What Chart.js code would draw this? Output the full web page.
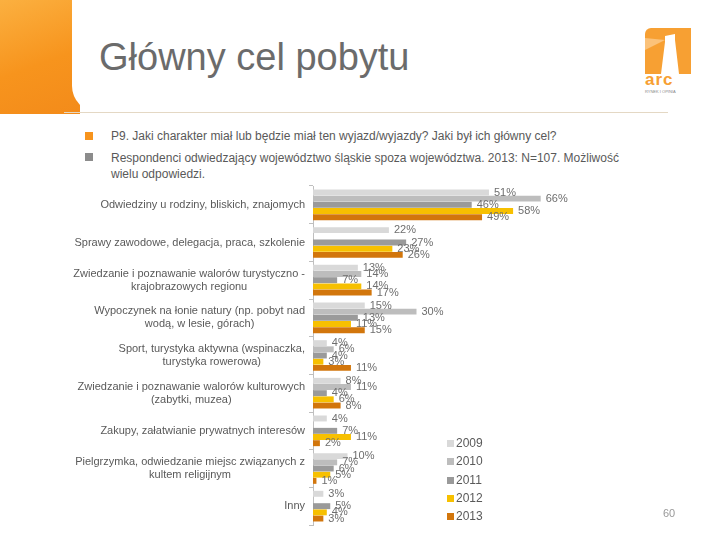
<!DOCTYPE html>
<html>
<head>
<meta charset="utf-8">
<script src="https://cdn.jsdelivr.net/npm/chart.js@4/dist/chart.umd.min.js"></script>
<style>
  body { margin: 0; width: 720px; height: 540px; position: relative; background: #fff; font-family: "Liberation Sans", Arial, sans-serif; overflow: hidden; }
  .corner { position: absolute; left: 0; top: 0; width: 80px; height: 114px; background: linear-gradient(160deg, #fbb040 0%, #f7941d 55%, #f38b1a 100%); }
  .panel { position: absolute; left: 72px; top: 0; width: 648px; height: 112px; background: #fff; border-bottom-left-radius: 26px; }
  .rule { position: absolute; left: 64px; top: 112px; width: 604px; height: 1px; background: #e4d8c4; }
  h1 { position: absolute; left: 99px; top: 36px; margin: 0; font-weight: normal; font-size: 38px; color: #6b6b6b; }
  .q { position: absolute; left: 111px; font-size: 12px; color: #595959; line-height: 16px; width: 520px; }
  .bul { position: absolute; left: 85px; width: 8px; height: 8px; }
  #legend { position: absolute; left: 447px; top: 435px; font-size: 12px; color: #595959; }
  #legend div { height: 18.3px; line-height: 16px; }
  #legend span { display: inline-block; width: 7px; height: 7px; margin-right: 2px; }
  .logo { position: absolute; left: 645px; top: 28px; width: 46px; height: 46px; background: #f7a033; border-top-left-radius: 6px; }
  .arc { position: absolute; left: 645px; top: 70px; font-size: 17px; font-weight: bold; color: #f7a033; letter-spacing: 1px; }
  .arcsub { position: absolute; left: 645px; top: 89px; font-size: 4px; color: #888; }
  .page { position: absolute; left: 663px; top: 507px; font-size: 11px; color: #999; }
</style>
</head>
<body>
<div class="corner"></div>
<div class="panel"></div>
<div class="rule"></div>
<h1>Główny cel pobytu</h1>
<div class="logo">
  <svg width="46" height="46"><path d="M20 8 L30 6 L30 12 L34 46 L16 46 L20 14 Z" fill="#fff"/><path d="M0 10 L20 12 L0 22 Z" fill="#fbc27a"/></svg>
</div>
<div class="arc">arc</div>
<div class="arcsub">RYNEK I OPINIA</div>
<div class="bul" style="top:132px;background:#f7941d"></div>
<div class="q" style="top:128px">P9. Jaki charakter miał lub będzie miał ten wyjazd/wyjazdy? Jaki był ich główny cel?</div>
<div class="bul" style="top:153px;background:#8c8c8c"></div>
<div class="q" style="top:150px">Respondenci odwiedzający województwo śląskie spoza województwa. 2013: N=107. Możliwość wielu odpowiedzi.</div>
<div style="position:absolute;left:0;top:180px;width:720px;height:350px"><canvas id="myChart"></canvas></div>
<div id="legend"></div>
<div class="page">60</div>
<script>
const categories = [
  ['Odwiedziny u rodziny, bliskich, znajomych'],
  ['Sprawy zawodowe, delegacja, praca, szkolenie'],
  ['Zwiedzanie i poznawanie walorów turystyczno -', 'krajobrazowych regionu'],
  ['Wypoczynek na łonie natury (np. pobyt nad', 'wodą, w lesie, górach)'],
  ['Sport, turystyka aktywna (wspinaczka,', 'turystyka rowerowa)'],
  ['Zwiedzanie i poznawanie walorów kulturowych', '(zabytki, muzea)'],
  ['Zakupy, załatwianie prywatnych interesów'],
  ['Pielgrzymka, odwiedzanie miejsc związanych z', 'kultem religijnym'],
  ['Inny']
];
const years = ['2009', '2010', '2011', '2012', '2013'];
const values2009 = [51, 22, 13, 15, 4, 8, 4, 10, 3];
const values2010 = [66, null, 14, 30, 6, 11, null, 7, null];
const values2011 = [46, 27, 7, 13, 4, 4, 7, 6, 5];
const values2012 = [58, 23, 14, 11, 3, 6, 11, 5, 4];
const values2013 = [49, 26, 17, 15, 11, 8, 2, 1, 3];
const colors = ['#d9d9d9', '#bdbdbd', '#9a9a9a', '#f7c000', '#d2760c'];

const series = [values2009, values2010, values2011, values2012, values2013];

// etykiety kategorii: wyśrodkowane w bloku wyrównanym do prawej
const catLabels = {
  id: 'catLabels',
  afterDraw(chart) {
    const ctx = chart.ctx;
    const y = chart.scales.y;
    ctx.save();
    ctx.font = '11px "Liberation Sans", Arial, sans-serif';
    ctx.fillStyle = '#595959';
    ctx.textAlign = 'center';
    ctx.textBaseline = 'middle';
    categories.forEach((lines, i) => {
      const w = Math.max(...lines.map(l => ctx.measureText(l).width));
      const cx = 305 - w / 2;
      const cy = y.getPixelForTick(i);
      const lh = 13;
      lines.forEach((l, j) => {
        ctx.fillText(l, cx, cy + (j - (lines.length - 1) / 2) * lh);
      });
    });
    ctx.restore();
  }
};

// wartości na końcu słupków
const valueLabels = {
  id: 'valueLabels',
  afterDatasetsDraw(chart) {
    const ctx = chart.ctx;
    ctx.save();
    ctx.font = '11px "Liberation Sans", Arial, sans-serif';
    ctx.fillStyle = '#6e6e6e';
    ctx.textAlign = 'left';
    ctx.textBaseline = 'middle';
    chart.data.datasets.forEach((ds, d) => {
      chart.getDatasetMeta(d).data.forEach((bar, i) => {
        const v = ds.data[i];
        if (v === null) return;
        ctx.fillText(v + '%', bar.x + 5, bar.y);
      });
    });
    ctx.restore();
  }
};

new Chart(document.getElementById('myChart'), {
  type: 'bar',
  data: {
    labels: categories,
    datasets: series.map((s, i) => ({
      label: years[i],
      data: s,
      backgroundColor: colors[i],
      categoryPercentage: 0.82,
      barPercentage: 0.96
    }))
  },
  options: {
    indexAxis: 'y',
    responsive: true,
    maintainAspectRatio: false,
    animation: false,
    layout: { padding: { top: 6, bottom: 5, right: 62, left: 0 } },
    scales: {
      x: { display: false, min: 0, max: 100 },
      y: {
        ticks: { display: false },
        grid: { drawOnChartArea: false, tickLength: 4, color: '#bfbfbf' },
        border: { color: '#bfbfbf' },
        afterFit: (s) => { s.width = 313; }
      }
    },
    plugins: {
      legend: { display: false },
      tooltip: { enabled: false }
    }
  },
  plugins: [catLabels, valueLabels]
});

document.getElementById('legend').innerHTML = years.map((y, i) =>
  `<div><span style="background:${colors[i]}"></span>${y}</div>`).join('');
</script>
</body>
</html>
